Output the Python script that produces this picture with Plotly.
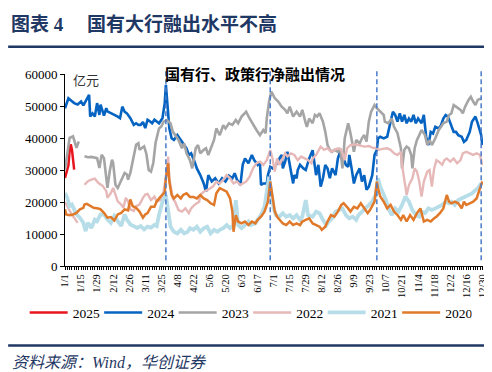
import datetime as dt
import plotly.graph_objects as go

BASE = dt.datetime(2024, 1, 1)

tick_labels = ["1/1", "1/15", "1/29", "2/12", "2/26", "3/11", "3/25", "4/8", "4/22",
               "5/6", "5/20", "6/3", "6/17", "7/1", "7/15", "7/29", "8/12", "8/26",
               "9/9", "9/23", "10/7", "10/21", "11/4", "11/18", "12/2", "12/16", "12/30"]
quarter_marks = ["3/29", "6/28", "9/29", "12/29"]

# 2025
days_2025 = [0, 1, 2, 3, 4, 5, 6, 7, 8]
vals_2025 = [27500, 29000, 31000, 31500, 36000, 38000, 36500, 34000, 30100]

# 2024
days_2024 = [0, 3, 5, 8, 11, 14, 16, 19, 21, 22,
             24, 26, 28, 30, 31, 34, 36, 37, 40, 43,
             46, 48, 50, 52, 54, 57, 60, 62, 64, 66,
             68, 70, 72, 74, 76, 78, 80, 82, 85, 87,
             88, 89, 90, 91, 93, 95, 98, 101, 103, 106,
             108, 110, 113, 115, 118, 121, 123, 125, 128, 131,
             134, 137, 140, 143, 146, 148, 150, 153, 155, 157,
             160, 163, 165, 168, 170, 171, 173, 176, 177, 179,
             181, 184, 187, 189, 190, 192, 194, 197, 199, 200,
             202, 203, 205, 208, 210, 213, 216, 217, 219, 221,
             223, 225, 227, 229, 231, 233, 236, 238, 240, 242,
             245, 247, 248, 250, 252, 254, 257, 259, 261, 263,
             265, 268, 270, 272, 273, 275, 278, 281, 284, 286,
             288, 290, 292, 294, 296, 298, 300, 302, 304, 306,
             308, 311, 313, 315, 317, 319, 321, 323, 326, 328,
             330, 332, 334, 337, 339, 341, 343, 346, 348, 350,
             353, 355, 358, 360, 362, 363, 364]
vals_2024 = [49300, 52400, 51800, 50900, 50500, 51400, 50200, 52400, 53500, 46700,
             47700, 46700, 50900, 47200, 50400, 47000, 49300, 48300, 47800, 47200,
             46700, 46200, 49800, 48200, 47700, 46200, 44100, 44600, 44100, 44100,
             45000, 43100, 45700, 45200, 44600, 45700, 45200, 44600, 46200, 50900,
             56600, 51400, 47200, 43000, 39900, 39400, 40900, 39400, 38300, 36800,
             34700, 35200, 32600, 30500, 28400, 25800, 23200, 28400, 26400, 27400,
             25800, 27400, 26400, 28200, 27400, 29000, 27000, 25300, 31600, 33600,
             32100, 34700, 33100, 31600, 32600, 25300, 25800, 25800, 28400, 31000,
             30500, 31600, 33600, 34700, 30500, 32600, 35700, 29500, 25800, 28400,
             27400, 30000, 31600, 30500, 30000, 33600, 36200, 33600, 28400, 31600,
             24800, 27400, 31600, 30500, 27400, 30500, 28400, 33600, 35700, 34700,
             31600, 31000, 34700, 30500, 25800, 28400, 30500, 26400, 28400, 23800,
             24800, 28400, 34700, 36200, 39900, 40400, 39900, 40400, 45100, 48200,
             47200, 45100, 47700, 45100, 47200, 44600, 46100, 45100, 47200, 44600,
             46100, 44600, 47200, 40400, 37800, 41900, 41400, 43500, 43000, 44000,
             46100, 47200, 46700, 44000, 41900, 41900, 40900, 40400, 38800, 39400,
             41900, 45100, 46700, 44600, 42500, 40900, 37800]

# 2023
days_2023 = [0, 2, 4, 7, 10, 12, 14, 17, 20, 23,
             26, 28, 30, 32, 34, 36, 37, 39, 41, 42,
             44, 46, 49, 52, 54, 55, 57, 60, 62, 64,
             65, 67, 69, 71, 73, 75, 77, 79, 82, 84,
             86, 89, 92, 94, 96, 99, 102, 104, 106, 109,
             111, 114, 116, 118, 121, 123, 125, 130, 132, 135,
             138, 140, 143, 146, 149, 151, 154, 158, 161, 164,
             167, 170, 173, 175, 176, 178, 180, 183, 186, 189,
             192, 194, 196, 199, 202, 205, 207, 210, 211, 213,
             216, 218, 220, 222, 225, 227, 229, 231, 233, 235,
             238, 240, 242, 244, 247, 249, 252, 254, 257, 259,
             261, 263, 265, 267, 270, 272, 275, 278, 279, 282,
             285, 287, 290, 293, 294, 296, 298, 300, 302, 303,
             305, 307, 309, 311, 314, 316, 318, 320, 323, 326,
             328, 330, 333, 335, 337, 339, 341, 345, 347, 349,
             352, 354, 356, 358, 360, 363]
vals_2023 = [30100, 36000, 40000, 40500, 36900, 38900, None, 34300, 34000, 34100,
             33900, 33700, 30600, 34800, 33700, 27500, 24400, 29600, 33200, 32200,
             25400, 24400, 26500, 29100, 28600, 27000, 29100, 34800, 37900, 38400,
             36300, 36900, 37400, 35000, 30000, 29500, 32200, 38500, 43000, 43600,
             45100, 45600, 44600, 42000, 40900, 39400, 36800, 38300, 35200, 33100,
             30500, 36800, 37800, 35200, 36300, 36800, 34700, 39400, 43000, 40900,
             44000, 43000, 44600, 44100, 45600, 44600, 46700, 48200, 46100, 44100,
             42500, 40900, 42500, 41500, 46100, 51400, 54500, 52400, 51400, 49800,
             48800, 47700, 49800, 46700, 48200, 46700, 48800, 44600, 43500, 46100,
             44600, 47200, 46700, 47700, 45100, 42000, 37800, 36300, 35700, 36300,
             35700, 36800, 30500, 39900, 44600, 41500, 35700, 39400, 38300, 39900,
             40900, 38900, 45100, 48200, 50300, 49300, 48200, 47200, 45100, 44600,
             46100, 43500, 41500, 36800, 30500, 36300, 37300, 36800, 34700, 30500,
             36800, 39400, 40900, 42500, 40900, 37800, 39400, 37800, 39900, 42500,
             43500, 44600, 45100, 47200, 47700, 50300, 49800, 48800, 47700, 49800,
             51900, 52900, 51400, 50300, 51900, 52400]

# 2022
days_2022 = [0, 2, 4, 6, 8, 11, 14, 17, 20, 23,
             26, 29, 33, 36, 37, 40, 42, 44, 46, 49,
             51, 53, 55, 57, 60, 62, 65, 68, 70, 72,
             75, 78, 80, 83, 86, 88, 90, 91, 94, 96,
             99, 102, 105, 108, 110, 113, 117, 118, 121, 124,
             127, 129, 132, 135, 138, 141, 144, 147, 150, 153,
             155, 158, 161, 164, 167, 170, 173, 176, 179, 181,
             183, 185, 187, 190, 192, 194, 197, 200, 203, 206,
             209, 212, 215, 216, 219, 223, 226, 229, 232, 235,
             238, 241, 244, 246, 249, 253, 257, 261, 265, 268,
             271, 274, 277, 281, 284, 287, 290, 293, 294, 296,
             298, 300, 303, 305, 307, 309, 311, 313, 316, 318,
             320, 322, 324, 326, 329, 331, 333, 336, 339, 342,
             345, 347, 350, 353, 356, 359, 362, 364]
vals_2022 = [20000, 18500, 17000, 16000, 15100, 13500, None, 25400, 26500, 27000,
             27300, 26000, 25000, 23400, 21300, 22800, 24400, 22300, 20200, 19200,
             18200, 21300, 20200, 17700, 17200, 18700, 19200, 21300, 22300, 22500,
             20600, 21700, 20100, 20600, 23200, 28000, 34200, 27400, 21100, 20100,
             17500, 17000, 18000, 16500, 18000, 19100, 20100, 22200, 23200, 23700,
             24300, 24800, 26400, 25800, 26900, 28400, 27400, 25800, 26400, 25300,
             25800, 26400, 27900, 30500, 32100, 32600, 31600, 33100, 36200, 33600,
             29500, 33600, 31600, 33600, 35200, 34200, 35200, 34700, 33100, 34200,
             33600, 33100, 32100, 33600, 34700, 37300, 36300, 36800, 35700, 36300,
             36800, 36300, 33100, 36800, 37800, 38000, 37600, 37300, 37500, 37000,
             36800, 36300, 36600, 36800, 36300, 35200, 34700, 35700, 31600, 26400,
             22200, 25300, 27400, 30500, 29500, 26400, 21700, 26400, 29500, 30000,
             24800, 30500, 33100, 32600, 31600, 33100, 33600, 32600, 33600, 32100,
             33100, 35200, 35700, 35200, 34700, 35200, 34700, 31600]

# 2021
days_2021 = [0, 2, 4, 6, 8, 10, 13, 16, 18, 20,
             23, 26, 28, 31, 34, 37, 40, 43, 46, 49,
             52, 54, 57, 60, 63, 66, 69, 72, 75, 78,
             80, 82, 85, 88, 90, 92, 95, 98, 101, 104,
             107, 109, 112, 115, 118, 121, 124, 127, 130, 133,
             135, 138, 141, 144, 147, 149, 151, 154, 157, 160,
             162, 166, 168, 171, 174, 176, 178, 180, 182, 184,
             187, 190, 193, 196, 199, 202, 205, 207, 210, 212,
             216, 219, 222, 225, 228, 230, 233, 236, 239, 242,
             245, 248, 251, 254, 256, 259, 262, 265, 268, 271,
             273, 275, 277, 280, 282, 285, 288, 291, 294, 297,
             300, 303, 306, 309, 311, 314, 317, 320, 323, 326,
             329, 332, 335, 337, 340, 343, 346, 349, 352, 355,
             358, 360, 363]
vals_2021 = [22800, 21300, 18700, 19200, 17700, 16100, 15100, 13500, 10900, 13500,
             11900, 14500, 14000, 16100, 16100, 14500, 13500, 15600, 14000, 12500,
             16100, 14500, 13000, 12500, 11900, 12500, 11400, 12300, 12000, 12800,
             12500, 15900, 20100, 22200, 18000, 12300, 10700, 10200, 11300, 10200,
             10700, 11800, 11300, 12300, 10700, 11800, 12300, 10200, 11300, 10700,
             11300, 11800, 12800, 11800, 12800, 20600, 12800, 11800, 12800, 13900,
             12800, 13300, 14400, 15900, 18500, 24300, 27900, 22700, 18000, 15900,
             15400, 16500, 15400, 15900, 14900, 15900, 14400, 15400, 20600, 15900,
             15400, 17000, 16500, 14400, 12800, 13900, 14900, 17000, 17500, 18000,
             15900, 14900, 15400, 14400, 15900, 17000, 18000, 19100, 20100, 22200,
             27400, 24800, 23200, 20600, 18000, 15900, 18000, 17000, 19100, 21700,
             20100, 17500, 15900, 15400, 17000, 16500, 18000, 17500, 18000, 18500,
             19100, 20100, 19600, 20100, 19100, 20600, 21100, 21700, 22200, 22700,
             23700, 24300, 25800]

# 2020
days_2020 = [0, 1, 4, 7, 10, 13, 16, 17, 19, 22,
             25, 29, 31, 34, 37, 40, 43, 46, 49, 52,
             55, 57, 59, 62, 65, 68, 70, 72, 75, 78,
             80, 83, 85, 87, 88, 90, 91, 93, 95, 98,
             101, 103, 106, 109, 112, 115, 118, 121, 124, 127,
             130, 132, 135, 138, 141, 144, 146, 147, 149, 151,
             154, 157, 160, 163, 166, 168, 171, 174, 177, 179,
             181, 183, 185, 187, 190, 193, 196, 199, 202, 205,
             207, 210, 213, 216, 219, 222, 224, 227, 229, 232,
             235, 238, 241, 243, 247, 249, 252, 255, 258, 261,
             264, 266, 270, 272, 273, 275, 278, 281, 284, 287,
             290, 293, 295, 298, 301, 304, 307, 310, 313, 316,
             319, 322, 324, 327, 330, 333, 335, 337, 340, 343,
             346, 348, 350, 353, 356, 359, 362, 364]
vals_2020 = [17700, 16100, 15900, 16100, 16600, 17700, 18200, 19200, 19400, 18700,
             18200, 18000, 17700, 16600, 15100, 15300, 14200, 16100, 16600, 17700,
             17400, 20800, 18700, 18200, 17000, 15100, 16100, 16500, 18500, 18500,
             20200, 21500, 22300, 23000, 27400, 32100, 26400, 22200, 21100, 22200,
             21100, 22200, 22700, 21600, 21600, 21100, 22200, 21100, 20600, 19600,
             19100, 22700, 24300, 23700, 23200, 21100, 17000, 10700, 15900, 13900,
             13300, 13900, 12800, 13900, 13300, 14400, 15400, 17000, 20100, 26400,
             22200, 17000, 15400, 14400, 13300, 12800, 13900, 12800, 13300, 12800,
             13900, 14400, 14900, 13300, 12800, 12300, 11300, 12300, 13900, 15900,
             15400, 17000, 19100, 19600, 18000, 17000, 18500, 18000, 19600, 18000,
             16500, 17500, 20100, 26400, 24300, 21700, 20100, 18000, 19100, 17000,
             15900, 14400, 15900, 13900, 15900, 14400, 16500, 18000, 13900, 14400,
             13900, 14900, 15400, 16500, 18000, 22200, 20100, 19600, 20100, 19600,
             18000, 20100, 19100, 19600, 20100, 21100, 24300, 26400]

series_names = ["2025", "2024", "2023", "2022", "2021", "2020"]
series_days = [days_2025, days_2024, days_2023, days_2022, days_2021, days_2020]
series_vals = [vals_2025, vals_2024, vals_2023, vals_2022, vals_2021, vals_2020]
colors = ["#E8141E", "#0563C1", "#A5A5A5", "#E6B9B8", "#B7DEE8", "#E07A2A"]
widths = [2.5, 2.6, 2.6, 2.4, 3.8, 2.5]


def to_dates(days):
    return [BASE + dt.timedelta(days=d) for d in days]


def md(s):
    m, d = s.split("/")
    return dt.datetime(2024, int(m), int(d))


fig = go.Figure()
for name, dd, vv, c, w in zip(series_names, series_days, series_vals, colors, widths):
    fig.add_trace(go.Scatter(x=to_dates(dd), y=vv, name=name, mode="lines",
                             line=dict(color=c, width=w), connectgaps=False))

for q in quarter_marks:
    fig.add_shape(type="line", xref="x", yref="paper", x0=md(q), x1=md(q),
                  y0=0.03, y1=1.03, line=dict(color="#4A7BC8", width=1.5, dash="5px,3px"))

NAVY = "#1F3864"
SERIF = "Liberation Serif, Noto Sans CJK SC"
# title rules
fig.add_shape(type="line", xref="paper", yref="paper", x0=-0.136, x1=1.034, y0=1.142, y1=1.142,
              line=dict(color=NAVY, width=2.5))
fig.add_shape(type="line", xref="paper", yref="paper", x0=-0.136, x1=1.034, y0=-0.4145, y1=-0.4145,
              line=dict(color=NAVY, width=2.5))

fig.add_annotation(xref="paper", yref="paper", x=0.235, y=1.005, xanchor="left", yanchor="middle",
                   text="<b>国有行、政策行净融出情况</b>", showarrow=False,
                   font=dict(family="Noto Sans CJK SC", size=15, color="#000000"))
fig.add_annotation(xref="paper", yref="paper", x=0.014, y=0.969, xanchor="left", yanchor="middle",
                   text="亿元", showarrow=False,
                   font=dict(family="Noto Sans CJK SC", size=13, color="#333333"))
fig.add_annotation(xref="paper", yref="paper", x=-0.131, y=-0.503, xanchor="left", yanchor="middle",
                   text="资料来源：Wind，华创证券", showarrow=False,
                   font=dict(family=SERIF, size=16, color=NAVY, style="italic"))

fig.update_layout(
    width=492, height=372,
    margin=dict(l=57, r=14, t=66, b=114),
    paper_bgcolor="white", plot_bgcolor="white",
    title=dict(text="<b>图表 4　 国有大行融出水平不高</b>", x=0.006, xanchor="left",
               y=0.957, yanchor="middle",
               font=dict(family=SERIF, size=19, color=NAVY)),
    showlegend=True,
    legend=dict(orientation="h", x=-0.0965, xanchor="left", y=-0.243, yanchor="middle",
                font=dict(family="Liberation Serif", size=13.5, color="#000000"),
                entrywidth=21.5, entrywidthmode="pixels", itemwidth=38,
                bgcolor="rgba(0,0,0,0)", traceorder="normal"),
    xaxis=dict(type="date", range=[BASE, BASE + dt.timedelta(days=364.6)],
               tickmode="array", tickvals=[md(s) for s in tick_labels], ticktext=tick_labels,
               tickangle=-90, showgrid=False, zeroline=False,
               showline=True, linecolor="#000000", linewidth=1,
               ticks="outside", ticklen=3, tickcolor="#000000",
               minor=dict(ticks="outside", ticklen=3, tickcolor="#000000",
                          dtick=2 * 86400000, tick0=BASE, showgrid=False),
               tickfont=dict(family="Liberation Serif", size=10.5, color="#000000")),
    yaxis=dict(range=[0, 60000], dtick=10000, tick0=0, showgrid=False, zeroline=False,
               showline=True, linecolor="#000000", linewidth=1, tickformat="d",
               ticks="outside", ticklen=4, tickcolor="#000000",
               tickfont=dict(family="Liberation Serif", size=13, color="#000000")),
)

fig.write_html("out.html")
